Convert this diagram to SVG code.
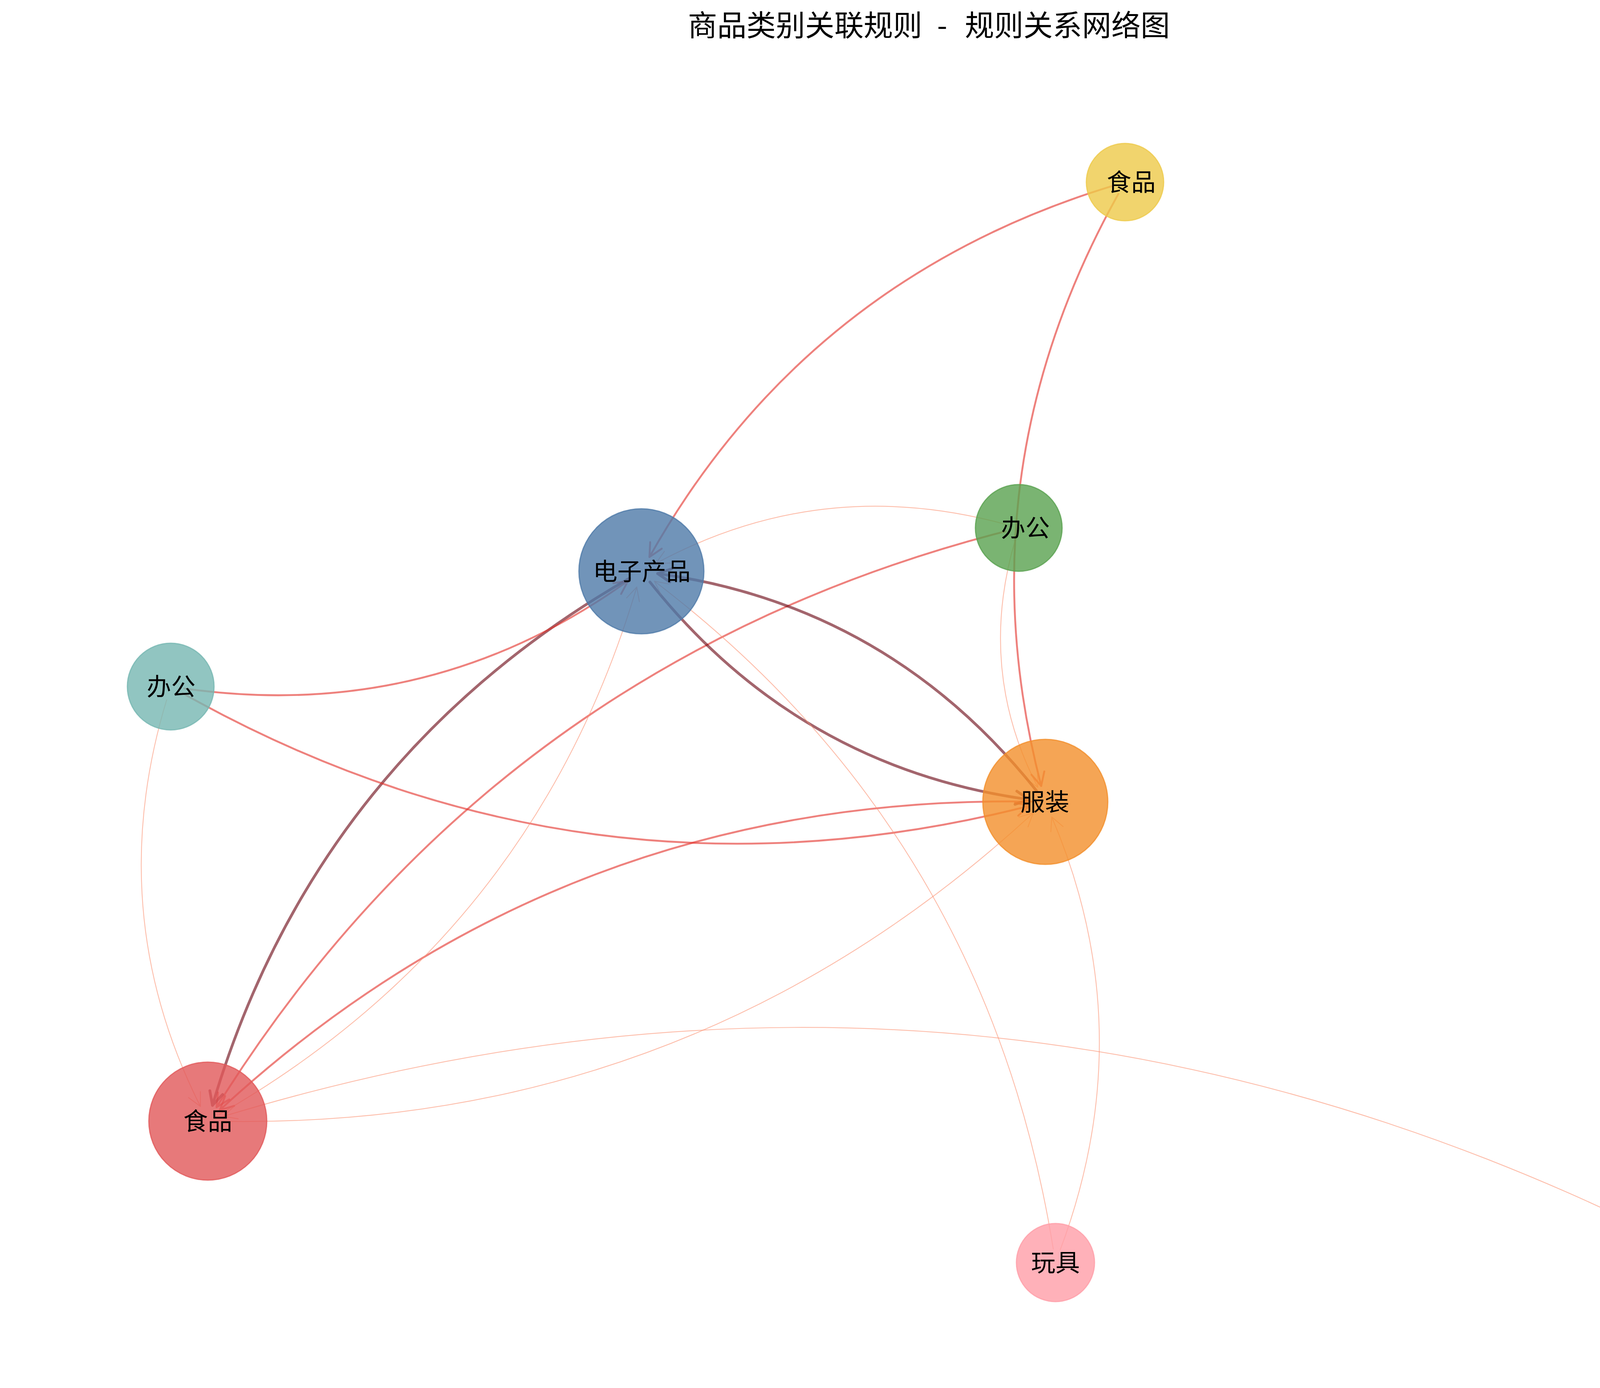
<svg xmlns="http://www.w3.org/2000/svg" width="4752" height="3552" viewBox="0 0 4752 3552">
<style>
.e{fill:none;stroke-linecap:round;stroke-linejoin:round}
.light{stroke:#fc9272;stroke-width:2.2}
.medium{stroke:#e32f27;stroke-width:4.8}
.dark{stroke:#67000d;stroke-width:7}
.eg{opacity:0.6}
.node circle{stroke-width:3}
.lbl{font-family:"Noto Sans CJK SC","Noto Sans CJK JP",sans-serif;font-size:62.5px;fill:#000;text-anchor:middle}
.title{font-family:"Noto Sans CJK SC","Noto Sans CJK JP",sans-serif;font-size:75px;fill:#000}
</style>
<defs>
<marker id="ah-light" markerUnits="userSpaceOnUse" orient="auto" markerWidth="90" markerHeight="90" refX="0" refY="0" overflow="visible"><path d="M-34,-17 L0,0 L-34,17" fill="none" stroke="#fc9272" stroke-width="2.2" stroke-linecap="round" stroke-linejoin="round"/></marker>
<marker id="ah-medium" markerUnits="userSpaceOnUse" orient="auto" markerWidth="90" markerHeight="90" refX="0" refY="0" overflow="visible"><path d="M-34,-17 L0,0 L-34,17" fill="none" stroke="#e32f27" stroke-width="4.8" stroke-linecap="round" stroke-linejoin="round"/></marker>
<marker id="ah-dark" markerUnits="userSpaceOnUse" orient="auto" markerWidth="90" markerHeight="90" refX="0" refY="0" overflow="visible"><path d="M-34,-17 L0,0 L-34,17" fill="none" stroke="#67000d" stroke-width="7" stroke-linecap="round" stroke-linejoin="round"/></marker>
</defs>
<rect x="0" y="0" width="4752" height="3552" fill="#ffffff"/>
<text class="title" y="92"><tspan x="1761">商品类别关联规则 </tspan><tspan x="2399">- </tspan><tspan x="2470">规则关系网络图</tspan></text>
<g id="connectors">
<g class="eg"><path id="e-y-b" class="e medium" marker-end="url(#ah-medium)" d="M2846.5,476.2 Q2062,716 1662.6,1425.4"/></g>
<g class="eg"><path id="e-y-o" class="e medium" marker-end="url(#ah-medium)" d="M2862.9,496.6 Q2460,1218 2665.5,2011.3"/></g>
<g class="eg"><path id="e-g-b" class="e light" marker-end="url(#ah-light)" d="M2574.2,1341.8 Q2103,1213 1679,1442"/></g>
<g class="eg"><path id="e-g-r" class="e medium" marker-end="url(#ah-medium)" d="M2574.1,1359.7 Q1266.4,1694.8 554.3,2833.4"/></g>
<g class="eg"><path id="e-g-o" class="e light" marker-end="url(#ah-light)" d="M2598.2,1384.6 Q2501.8,1715.1 2656.7,2014.7"/></g>
<g class="eg"><path id="e-b-o" class="e dark" marker-end="url(#ah-dark)" d="M1663.8,1489.4 Q2041,1963.8 2634.4,2046.2"/></g>
<g class="eg"><path id="e-o-b" class="e dark" marker-end="url(#ah-dark)" d="M2654.2,2024.6 Q2277,1550.2 1683.6,1467.8"/></g>
<g class="eg"><path id="e-b-r" class="e dark" marker-end="url(#ah-dark)" d="M1611.7,1479.5 Q805.6,1943.5 543.9,2828.7"/></g>
<g class="eg"><path id="e-t-b" class="e medium" marker-end="url(#ah-medium)" d="M471.7,1761.9 Q1098.5,1850.5 1607.8,1486.4"/></g>
<g class="eg"><path id="e-t-o" class="e medium" marker-end="url(#ah-medium)" d="M467.5,1774.1 Q1497.5,2352.3 2635.3,2062.4"/></g>
<g class="eg"><path id="e-t-r" class="e light" marker-end="url(#ah-light)" d="M426.8,1790.5 Q262.1,2332 513.1,2831.5"/></g>
<g class="eg"><path id="e-o-r" class="e medium" marker-end="url(#ah-medium)" d="M2641,2051.4 Q1440.6,2031.7 562.9,2840.5"/></g>
<g class="eg"><path id="e-r-o" class="e light" marker-end="url(#ah-light)" d="M567,2869.6 Q1767.4,2889.3 2645.1,2080.5"/></g>
<g class="eg"><path id="e-r-b" class="e light" marker-end="url(#ah-light)" d="M562.3,2851.5 Q1368.4,2387.5 1630.1,1502.3"/></g>
<g class="eg"><path id="e-p-b" class="e light" marker-end="url(#ah-light)" d="M2696.4,3196.4 Q2525.8,2134.5 1675.4,1487.4"/></g>
<g class="eg"><path id="e-p-o" class="e light" marker-end="url(#ah-light)" d="M2714.3,3198.2 Q2924.8,2636.3 2692.5,2090.6"/></g>
<g class="eg"><path id="e-u-r" class="e light" marker-end="url(#ah-light)" d="M4283.7,3179.3 Q2488.7,2275.4 572.2,2856.8"/></g>
</g>
<g id="node-food-yellow" class="node"><circle cx="2880" cy="466" r="99" fill="#EDC948" fill-opacity="0.8" stroke="#EDC948" stroke-opacity="0.8"/><text class="lbl" x="2896" y="489">食品</text></g>
<g id="node-office-green" class="node"><circle cx="2608" cy="1351" r="111" fill="#59A14F" fill-opacity="0.8" stroke="#59A14F" stroke-opacity="0.8"/><text class="lbl" x="2625" y="1374">办公</text></g>
<g id="node-electronics" class="node"><circle cx="1642" cy="1462" r="160" fill="#4E79A7" fill-opacity="0.8" stroke="#4E79A7" stroke-opacity="0.8"/><text class="lbl" x="1643" y="1485">电子产品</text></g>
<g id="node-office-teal" class="node"><circle cx="437" cy="1757" r="111" fill="#76B7B2" fill-opacity="0.8" stroke="#76B7B2" stroke-opacity="0.8"/><text class="lbl" x="438" y="1780">办公</text></g>
<g id="node-clothing-orange" class="node"><circle cx="2676" cy="2052" r="160" fill="#F28E2B" fill-opacity="0.8" stroke="#F28E2B" stroke-opacity="0.8"/><text class="lbl" x="2675" y="2075">服装</text></g>
<g id="node-food-red" class="node"><circle cx="532" cy="2869" r="151" fill="#E15759" fill-opacity="0.8" stroke="#E15759" stroke-opacity="0.8"/><text class="lbl" x="532" y="2892">食品</text></g>
<g id="node-toys" class="node"><circle cx="2702" cy="3231" r="100" fill="#FF9DA7" fill-opacity="0.8" stroke="#FF9DA7" stroke-opacity="0.8"/><text class="lbl" x="2702" y="3254">玩具</text></g>
<g id="node-clothing-purple" class="node"><circle cx="4315" cy="3195" r="85" fill="#B07AA1" fill-opacity="0.8" stroke="#B07AA1" stroke-opacity="0.8"/><text class="lbl" x="4332" y="3217">服装</text></g>
</svg>
